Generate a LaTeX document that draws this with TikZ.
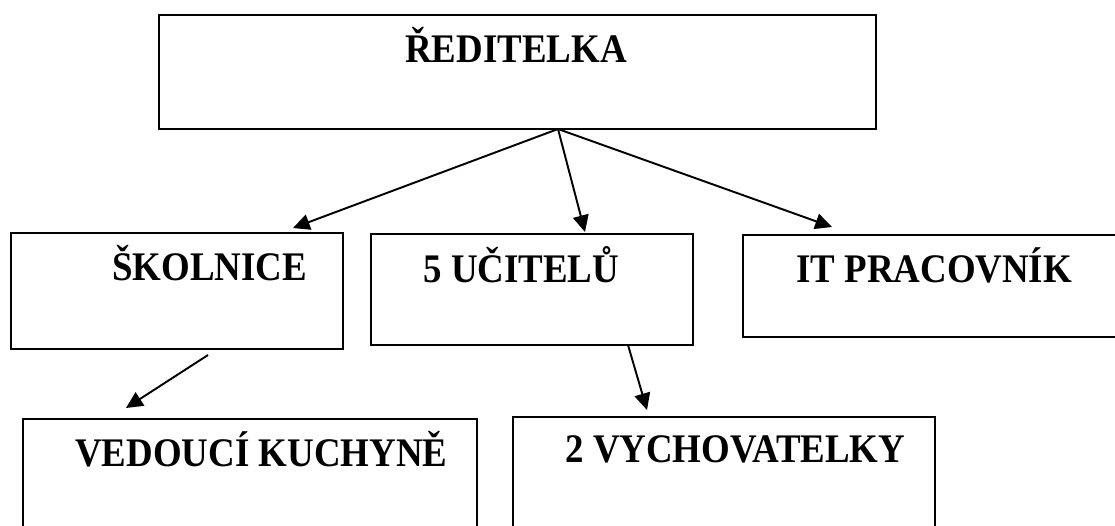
\documentclass[tikz,border=0pt]{standalone}
\usepackage{fontspec}
\setmainfont{Liberation Serif}
\usetikzlibrary{arrows.meta}
\newcommand{\lbtext}[1]{\scalebox{1}[1.1]{#1}}
\tikzset{
  box/.style={draw, line width=0.9pt, inner sep=0pt, outer sep=0pt, anchor=north west},
  lbl/.style={font=\fontsize{21}{25}\selectfont\bfseries, anchor=base west, inner sep=0pt},
  arr/.style={-{Triangle[length=9.5pt,width=9pt]}, line width=1.1pt}
}
\begin{document}
\begin{tikzpicture}[x=0.02cm, y=-0.02cm]
\path[use as bounding box, clip] (0,0) rectangle (1115,525);
% boxes
\node[box, minimum width=14.34cm, minimum height=2.28cm] (top) at (159,15) {};
\node[box, minimum width=6.64cm, minimum height=2.32cm] (skol) at (11,233) {};
\node[box, minimum width=6.44cm, minimum height=2.22cm] (ucit) at (371,234) {};
\node[box, minimum width=7.64cm, minimum height=2.04cm] (it) at (743,235) {};
\node[box, minimum width=9.08cm, minimum height=2.42cm] (ved) at (23,419) {};
\node[box, minimum width=8.44cm, minimum height=2.46cm] (vych) at (513,417) {};
% labels
\node[lbl] (ltop) at (405,62) {\lbtext{ŘEDITELKA}};
\node[lbl] (lskol) at (112,280) {\lbtext{ŠKOLNICE}};
\node[lbl] (lucit) at (423,282) {\lbtext{5 UČITELŮ}};
\node[lbl] (lit) at (796,282) {\lbtext{IT PRACOVNÍK}};
\node[lbl] (lved) at (75,466) {\lbtext{VEDOUCÍ KUCHYNĚ}};
\node[lbl] (lvych) at (565,462) {\lbtext{2 VYCHOVATELKY}};
% connector end points
\coordinate (apex) at (558,129);
\coordinate (inSkol) at (293,228);
\coordinate (inUcit) at (585,232);
\coordinate (inIt) at (832,227);
\coordinate (outSkol) at (208,355);
\coordinate (inVed) at (126,408);
\coordinate (outUcit) at (628,345);
\coordinate (inVych) at (647,410);
% connectors
\draw[arr] (apex) -- (inSkol);
\draw[arr] (apex) -- (inUcit);
\draw[arr] (apex) -- (inIt);
\draw[arr] (outSkol) -- (inVed);
\draw[arr] (outUcit) -- (inVych);
\end{tikzpicture}
\end{document}
